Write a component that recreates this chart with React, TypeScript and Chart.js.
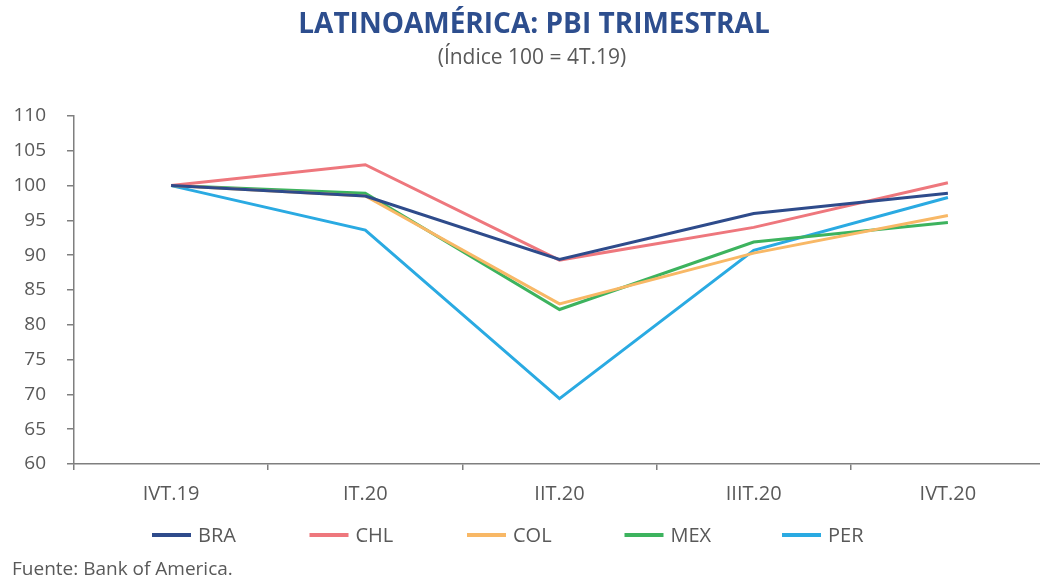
import React, { useEffect, useRef } from "react";
import { Chart, registerables } from "chart.js";

Chart.register(...registerables);

const categories = ["IVT.19", "IT.20", "IIT.20", "IIIT.20", "IVT.20"];
const seriesNames = ["BRA", "CHL", "COL", "MEX", "PER"];
const braValues = [100, 98.5, 89.4, 96.0, 98.9];
const chlValues = [100, 103.0, 89.3, 94.0, 100.4];
const colValues = [100, 98.5, 83.0, 90.3, 95.7];
const mexValues = [100, 98.9, 82.2, 91.9, 94.7];
const perValues = [100, 93.6, 69.4, 90.7, 98.3];
const yTicks = [60, 65, 70, 75, 80, 85, 90, 95, 100, 105, 110];

const TITLE = "LATINOAMÉRICA: PBI TRIMESTRAL";
const SUBTITLE = "(Índice 100 = 4T.19)";
const SOURCE = "Fuente: Bank of America.";

const COLORS = ["#2E4B8B", "#EE777D", "#F8B866", "#3DB35E", "#2AAAE2"];
const FONT = "'Open Sans', 'Noto Sans', sans-serif";
const GRAY = "#595959";

const textPlugin = {
  id: "texts",
  afterDraw(chart: any) {
    const ctx = chart.ctx;
    ctx.save();
    ctx.textBaseline = "middle";
    ctx.textAlign = "center";
    ctx.fillStyle = "#2D4E8E";
    ctx.font = `bold 28px ${FONT}`;
    ctx.fillText(TITLE, 534, 25);
    ctx.fillStyle = GRAY;
    ctx.font = `21px ${FONT}`;
    ctx.fillText(SUBTITLE, 532, 58);

    // legend
    const startX = 152;
    const step = 157.5;
    const ly = 535;
    ctx.textAlign = "left";
    ctx.font = `20px ${FONT}`;
    chart.data.datasets.forEach((ds: any, i: number) => {
      const x = startX + i * step;
      ctx.strokeStyle = ds.borderColor;
      ctx.lineWidth = 4;
      ctx.beginPath();
      ctx.moveTo(x, ly);
      ctx.lineTo(x + 39, ly);
      ctx.stroke();
      ctx.fillStyle = GRAY;
      ctx.fillText(ds.label, x + 46, ly + 1);
    });

    ctx.font = `19px ${FONT}`;
    ctx.fillStyle = GRAY;
    ctx.fillText(SOURCE, 12, 570);
    ctx.restore();
  },
};

export default function App() {
  const ref = useRef<HTMLCanvasElement | null>(null);
  useEffect(() => {
    if (!ref.current) return;
    const allValues = [braValues, chlValues, colValues, mexValues, perValues];
    const chart = new Chart(ref.current, {
      type: "line",
      data: {
        labels: categories,
        datasets: seriesNames.map((name, i) => ({
          label: name,
          data: allValues[i],
          borderColor: COLORS[i],
          backgroundColor: COLORS[i],
          borderWidth: 3,
          pointRadius: 0,
          tension: 0,
          fill: false,
        })),
      },
      options: {
        animation: false,
        responsive: true,
        maintainAspectRatio: false,
        layout: { padding: { top: 116, right: 5, bottom: 77, left: 0 } },
        plugins: {
          legend: { display: false },
          title: { display: false },
          tooltip: { enabled: false },
        },
        scales: {
          x: {
            offset: true,
            afterFit: (s: any) => {
              s.height = 40;
            },
            grid: {
              offset: true,
              drawOnChartArea: false,
              drawTicks: true,
              tickLength: 6,
              color: "#7F7F7F",
              lineWidth: 1.5,
            },
            border: { display: true, color: "#7F7F7F", width: 1.5 },
            ticks: {
              color: GRAY,
              font: { family: FONT, size: 20 },
              padding: 12,
              maxRotation: 0,
            },
          },
          y: {
            min: 60,
            max: 110,
            afterFit: (s: any) => {
              s.width = 74;
            },
            afterBuildTicks: (s: any) => {
              s.ticks = yTicks.map((v) => ({ value: v }));
            },
            grid: {
              drawOnChartArea: false,
              drawTicks: true,
              tickLength: 7,
              color: "#7F7F7F",
              lineWidth: 1.5,
            },
            border: { display: true, color: "#7F7F7F", width: 1.5 },
            ticks: {
              color: GRAY,
              font: { family: FONT, size: 19 },
              padding: 21,
            },
          },
        },
      },
      plugins: [textPlugin],
    });
    return () => chart.destroy();
  }, []);

  return (
    <div
      style={{
        position: "fixed",
        left: 0,
        top: 0,
        width: 1040,
        height: 581,
        overflow: "hidden",
        background: "#fff",
      }}
    >
      <div style={{ position: "relative", width: 1050, height: 581 }}>
        <canvas ref={ref} />
      </div>
    </div>
  );
}
